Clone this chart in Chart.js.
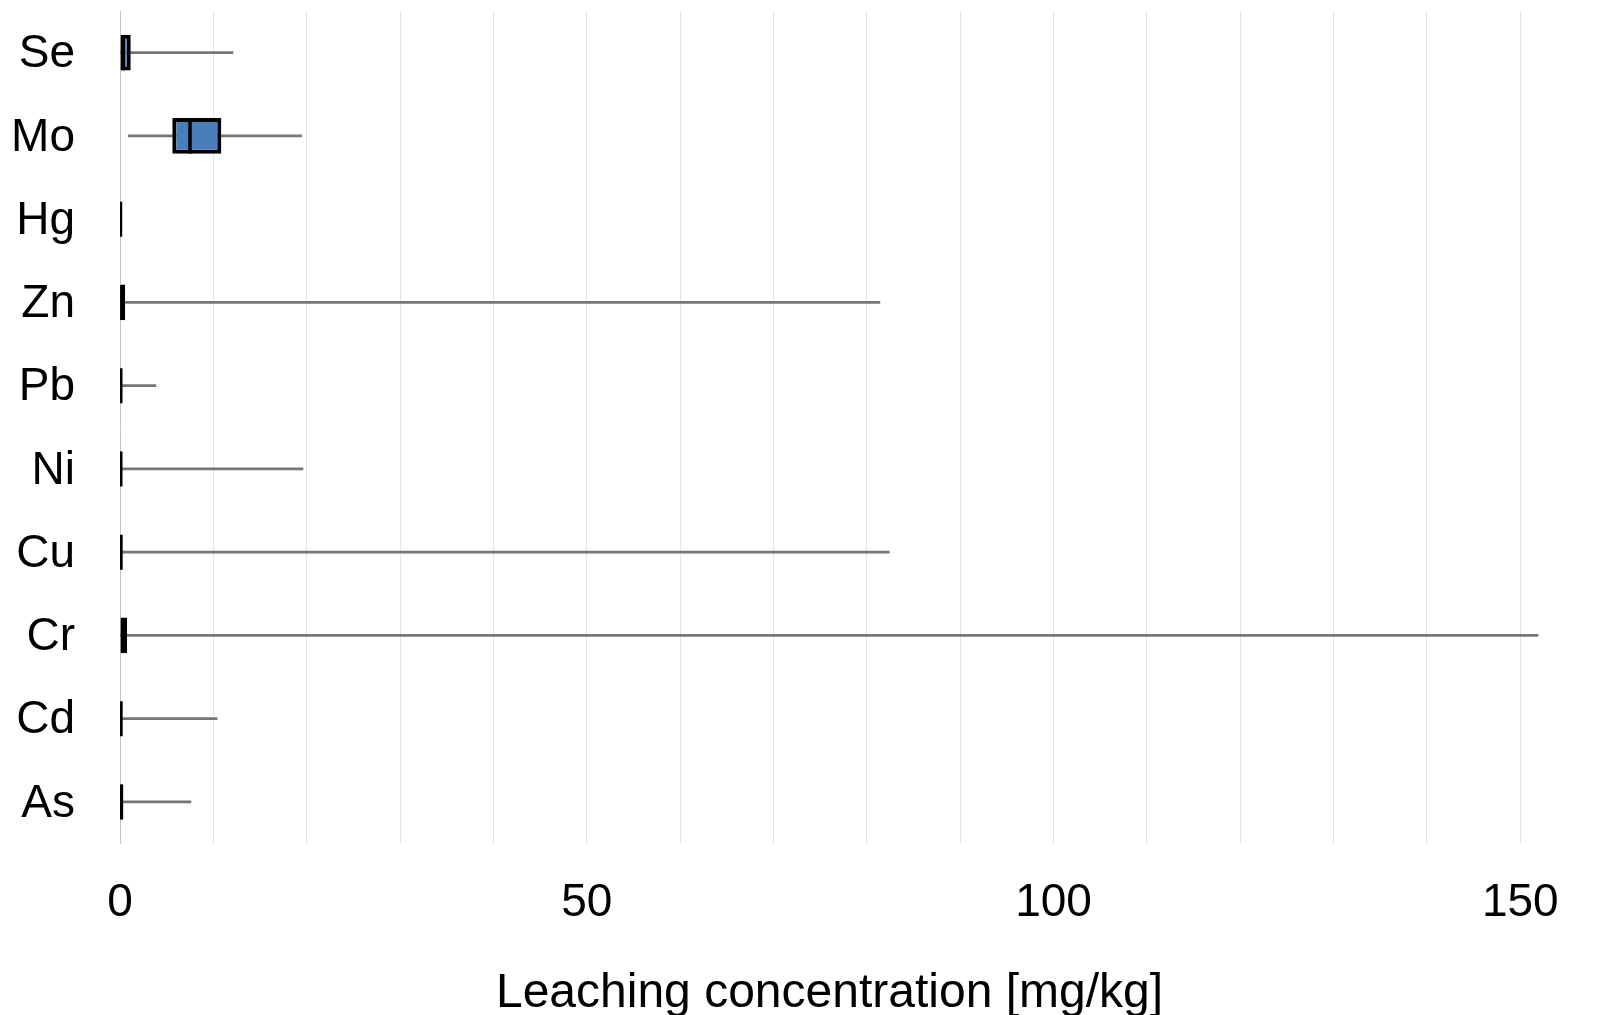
<!DOCTYPE html>
<html>
<head>
<meta charset="utf-8">
<title>Leaching concentration box plot</title>
<script src="https://cdn.jsdelivr.net/npm/chart.js@4"></script>
<style>
  html, body { margin: 0; padding: 0; background: #fff; }
  #wrap { width: 1604px; height: 1015px; position: relative; }
</style>
</head>
<body>
<div id="wrap"><canvas id="boxChart"></canvas></div>
<script>
'use strict';

// ---- Data (mg/kg) ----
const elements = ['Se', 'Mo', 'Hg', 'Zn', 'Pb', 'Ni', 'Cu', 'Cr', 'Cd', 'As'];
const minVals  = [0.0,  0.9,  0.02, 0.0,  0.05, 0.05, 0.05, 0.0,  0.05, 0.05];
const q1Vals   = [0.05, 5.6,  0.03, 0.05, 0.05, 0.05, 0.08, 0.05, 0.05, 0.1];
const medVals  = [0.35, 7.5,  0.05, 0.2,  0.08, 0.08, 0.1,  0.3,  0.1,  0.15];
const q3Vals   = [1.15, 10.85, 0.07, 0.55, 0.1, 0.1,  0.12, 0.75, 0.12, 0.2];
const maxVals  = [12.1, 19.45, 0.1, 81.4, 3.85, 19.6, 82.4, 151.9, 10.4, 7.6];
const xTickLabels = [0, 50, 100, 150];

const FONT = 'Liberation Sans, Arial, sans-serif';

const boxData = elements.map((e, i) => [q1Vals[i], q3Vals[i]]);
const whiskerData = elements.map((e, i) => [minVals[i], maxVals[i]]);
const medianData = elements.map((e, i) => ({ x: medVals[i], y: e }));

new Chart(document.getElementById('boxChart'), {
  type: 'bar',
  data: {
    labels: elements,
    datasets: [
      {
        label: 'Median',
        type: 'scatter',
        data: medianData,
        pointStyle: 'line',
        rotation: 90,
        radius: 17.5,
        borderColor: '#000',
        borderWidth: 3.5,
        order: 0,
      },
      {
        label: 'IQR',
        data: boxData,
        backgroundColor: '#4a7ebb',
        borderColor: '#000',
        borderWidth: 4,
        borderSkipped: false,
        categoryPercentage: 1,
        barPercentage: 0.43,
        grouped: false,
        order: 1,
      },
      {
        label: 'Range',
        data: whiskerData,
        backgroundColor: '#767676',
        borderWidth: 0,
        barThickness: 2,
        grouped: false,
        order: 2,
      },
    ],
  },
  options: {
    indexAxis: 'y',
    responsive: true,
    maintainAspectRatio: false,
    animation: false,
    layout: {
      autoPadding: false,
      padding: { top: 11, right: 65, bottom: 0, left: 0 },
    },
    plugins: {
      legend: { display: false },
      tooltip: { enabled: false },
    },
    scales: {
      x: {
        type: 'linear',
        min: 0,
        max: 152,
        grid: {
          drawTicks: false,
          color: c => (c.tick && c.tick.value === 0 ? '#c4c4c4' : '#e4e4e4'),
          lineWidth: 1,
        },
        border: { display: false },
        ticks: {
          stepSize: 10,
          includeBounds: false,
          autoSkip: false,
          maxRotation: 0,
          padding: 32,
          color: '#000',
          font: { size: 46, family: FONT },
          callback: v => (xTickLabels.includes(v) ? String(v) : ''),
        },
        title: {
          display: true,
          text: 'Leaching concentration [mg/kg]',
          color: '#000',
          font: { size: 48, family: FONT },
          padding: { top: 20, bottom: -8 },
        },
        afterFit: s => { s.height = 171.5; },
      },
      y: {
        grid: { display: false, drawTicks: false },
        border: { display: false },
        ticks: {
          padding: 45,
          labelOffset: 2,
          color: '#000',
          font: { size: 46, family: FONT },
        },
        afterFit: s => {
          s.width = 120;
          s.paddingTop = 0;
          s.paddingBottom = 0;
        },
      },
    },
  },
});
</script>
</body>
</html>
